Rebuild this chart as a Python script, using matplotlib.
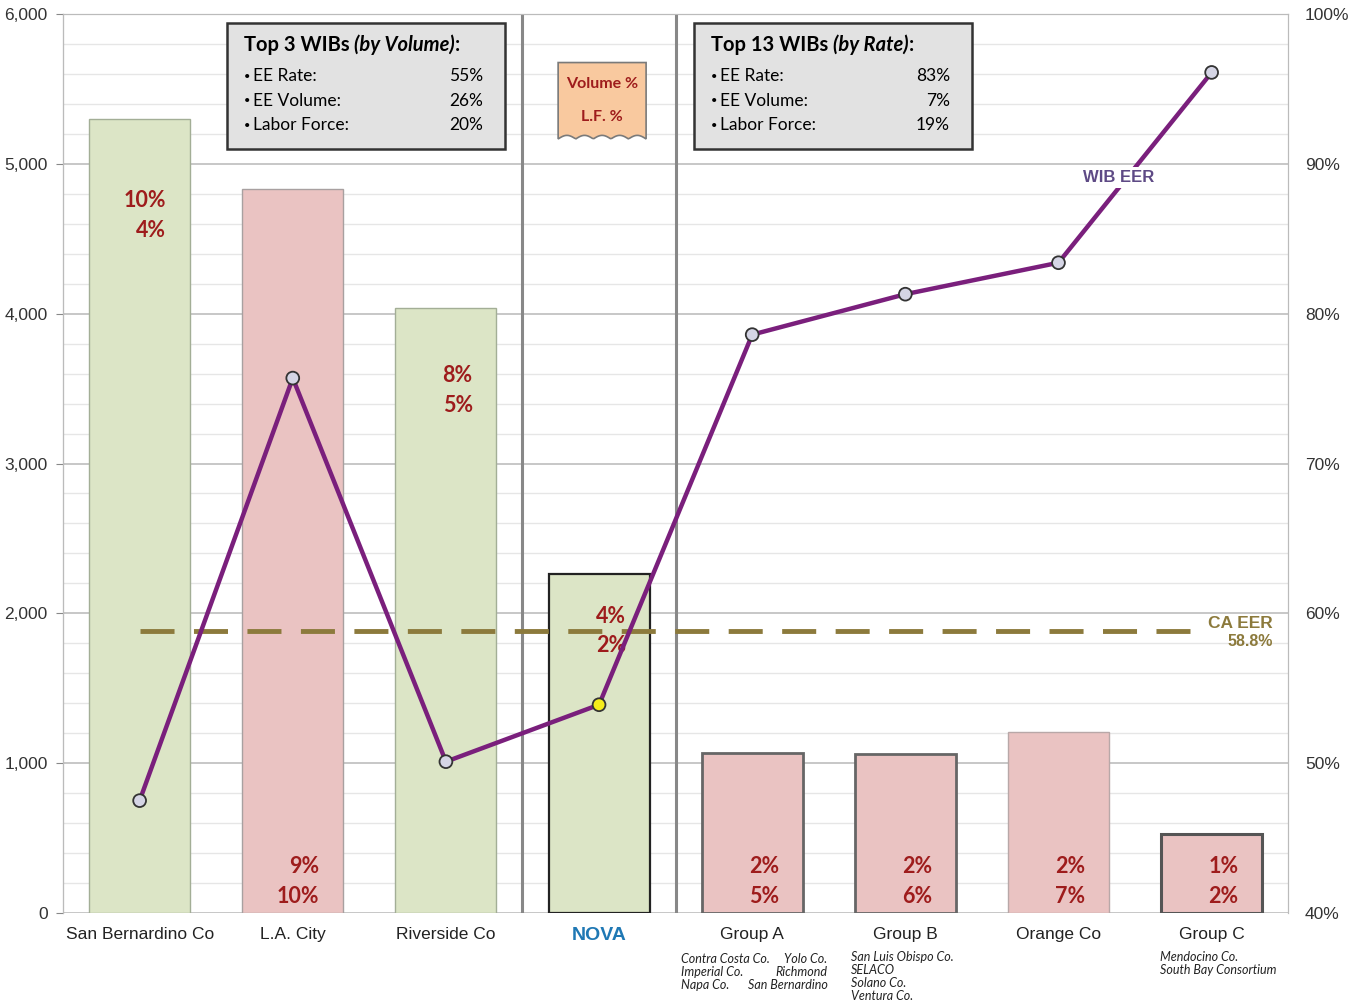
import matplotlib.pyplot as plt
import numpy as np
from matplotlib.patches import Rectangle, Polygon
from matplotlib.ticker import MultipleLocator, FuncFormatter

plt.rcParams['font.family'] = ['Liberation Sans', 'DejaVu Sans']

categories = ['San Bernardino Co', 'L.A. City', 'Riverside Co', 'NOVA',
              'Group A', 'Group B', 'Orange Co', 'Group C']
volume = [5300, 4830, 4040, 2260, 1070, 1060, 1210, 530]
wib_eer = [47.5, 75.7, 50.1, 53.9, 78.6, 81.3, 83.4, 96.1]
vol_pct = ['10%', '9%', '8%', '4%', '2%', '2%', '2%', '1%']
lf_pct = ['4%', '10%', '5%', '2%', '5%', '6%', '7%', '2%']
bar_kind = ['g', 'p', 'g', 'g', 'p', 'p', 'p', 'p']
ca_eer = 58.8
group_a_members = [('Contra Costa Co.', 'Yolo Co.'), ('Imperial Co.', 'Richmond'),
                   ('Napa Co.', 'San Bernardino')]
group_b_members = ['San Luis Obispo Co.', 'SELACO', 'Solano Co.', 'Ventura Co.']
group_c_members = ['Mendocino Co.', 'South Bay Consortium']
box1 = ('Top 3 WIBs ', '(by Volume)', [('EE Rate:', '55%'), ('EE Volume:', '26%'), ('Labor Force:', '20%')])
box2 = ('Top 13 WIBs ', '(by Rate)', [('EE Rate:', '83%'), ('EE Volume:', '7%'), ('Labor Force:', '19%')])

green = '#DCE5C6'
pink = '#EAC3C2'
red = '#9E1C1C'
purple = '#7A1F7C'
olive = '#8C7A3C'
myriad = ['Lato', 'DejaVu Sans']

fig = plt.figure(figsize=(13.56, 10), dpi=100)
ax = fig.add_axes([0.0465, 0.087, 0.9035, 0.899])
ax2 = ax.twinx()

x = np.arange(len(categories))
edges = ['#A3AE96', '#A8A0A0', '#A3AE96', '#222222', '#666666', '#666666', '#B8A8A8', '#555555']
lws = [1, 1, 1, 1.6, 2, 2, 1, 2.2]
for i in range(len(categories)):
    ax.bar(x[i], volume[i], width=0.66, color=green if bar_kind[i] == 'g' else pink,
           edgecolor=edges[i], linewidth=lws[i], zorder=2)

ax.set_xlim(-0.5, 7.5)
ax.set_ylim(0, 6000)
ax.yaxis.set_major_locator(MultipleLocator(1000))
ax.yaxis.set_minor_locator(MultipleLocator(200))
ax.yaxis.set_major_formatter(FuncFormatter(lambda v, p: f'{int(v):,}'))
ax.grid(axis='y', which='major', color='#BDBDBD', lw=1.2, zorder=0)
ax.grid(axis='y', which='minor', color='#E6E6E6', lw=1.0, zorder=0)
ax.set_axisbelow(True)
ax.tick_params(axis='y', which='major', length=5, color='#888888', labelsize=12.5, labelcolor='#333333', pad=6)
ax.tick_params(axis='y', which='minor', length=0)
ax.tick_params(axis='x', length=0, labelsize=12.5, labelcolor='#222222', pad=10)
ax.set_xticks(x)
ax.set_xticklabels(categories)
lab = ax.get_xticklabels()[3]
lab.set_color('#1F78B4')
lab.set_fontweight('bold')
lab.set_fontsize(14)
for s in ['left', 'right', 'top', 'bottom']:
    ax.spines[s].set_color('#BBBBBB')
    ax2.spines[s].set_color('#BBBBBB')
ax.spines['left'].set_color('#888888')
ax.spines['bottom'].set_visible(False)
ax2.spines['bottom'].set_visible(False)

# group separators
for xs in [2.5, 3.5]:
    ax.axvline(xs, color='#888888', lw=2.2, zorder=3)

# percentage labels (below the top of the green bars, at the bottom of the pink ones)
top_drop = {0: 547, 2: 455, 3: 280}
for i in range(len(categories)):
    if bar_kind[i] == 'g':
        y1 = volume[i] - top_drop[i]
        y2 = y1 - 195
    else:
        y1, y2 = 310, 110
    for yy, s in [(y1, vol_pct[i]), (y2, lf_pct[i])]:
        ax.text(x[i] + 0.175, yy, s, ha='right', va='center', color=red, fontsize=15.5,
                fontweight='bold', family=myriad, zorder=5)

# right axis
ax2.set_ylim(40, 100)
ax2.yaxis.set_major_locator(MultipleLocator(10))
ax2.yaxis.set_major_formatter(FuncFormatter(lambda v, p: f'{int(v)}%'))
ax2.tick_params(axis='y', length=0, labelsize=12.5, labelcolor='#333333', pad=12)

ax2.plot([0, 6.95], [ca_eer, ca_eer], color=olive, lw=3.5, dashes=(7, 4), zorder=3)
ax2.text(7.19, 59.35, 'CA EER', color=olive, fontsize=12.5, fontweight='bold', ha='center', va='center')
ax2.text(7.25, 58.15, f'{ca_eer}%', color=olive, fontsize=11.5, fontweight='bold', ha='center', va='center')

ax2.plot(x, wib_eer, color=purple, lw=3.2, zorder=4)
mcolors = ['#D5D5E5'] * len(x)
mcolors[3] = '#F5EC1A'
ax2.scatter(x, wib_eer, s=85, c=mcolors, edgecolors='#333333', linewidths=1.3, zorder=6)
ax2.text(6.39, 89.1, 'WIB EER', color='#5E4A85', fontsize=12, fontweight='bold', ha='center', va='center',
         zorder=7, bbox=dict(facecolor='white', edgecolor='none', pad=2))

# info boxes (axes coordinates)
def info_box(x0, x1, title, italic, rows):
    y0, y1 = 0.85, 0.99
    ax.add_patch(Rectangle((x0, y0), x1 - x0, y1 - y0, transform=ax.transAxes,
                           facecolor='#E2E2E2', edgecolor='#333333', lw=1.8, zorder=7))
    t = ax.text(x0 + 0.0135, 0.966, title, transform=ax.transAxes, fontsize=14.5, fontweight='bold',
                va='center', family=myriad, zorder=8)
    t2 = ax.annotate(italic, xy=(1, 0), xycoords=t, va='bottom', fontsize=14.5, fontweight='bold',
                     style='italic', family=myriad, zorder=8)
    ax.annotate(':', xy=(1, 0), xycoords=t2, va='bottom', fontsize=14.5, fontweight='bold',
                family=myriad, zorder=8)
    for k, (name, val) in enumerate(rows):
        yy = 0.931 - k * 0.0275
        ax.text(x0 + 0.0135, yy, '\u2022', transform=ax.transAxes, fontsize=8,
                va='center', family=myriad, zorder=8)
        ax.text(x0 + 0.021, yy, name, transform=ax.transAxes, fontsize=12.5,
                va='center', family=myriad, zorder=8)
        ax.text(x1 - 0.018, yy, val, transform=ax.transAxes, fontsize=12.5, ha='right',
                va='center', family=myriad, zorder=8)

info_box(0.1338, 0.3608, *box1)
info_box(0.5151, 0.7420, *box2)

# "Volume % / L.F. %" key box with wavy bottom
kx0, kx1, ky0, ky1 = 0.4041, 0.4759, 0.861, 0.946
wx = np.linspace(kx0, kx1, 60)
wy = ky0 + 0.004 * np.abs(np.sin((wx - kx0) / (kx1 - kx0) * np.pi * 5))
poly = np.vstack([[kx0, ky1], [kx1, ky1], np.column_stack([wx[::-1], wy[::-1]])])
ax.add_patch(Polygon(poly, closed=True, transform=ax.transAxes, facecolor='#F9C99F',
                     edgecolor='#7A7A7A', lw=1.2, zorder=7))
ax.text((kx0 + kx1) / 2, 0.922, 'Volume %', transform=ax.transAxes, color=red, fontsize=11.5,
        fontweight='bold', ha='center', va='center', family=myriad, zorder=8)
ax.text((kx0 + kx1) / 2, 0.885, 'L.F. %', transform=ax.transAxes, color=red, fontsize=11.5,
        fontweight='bold', ha='center', va='center', family=myriad, zorder=8)

# member lists under group labels
fs = 9
step = 0.0143
for k, (left, right) in enumerate(group_a_members):
    yy = -0.0512 - k * step
    ax.text(0.504, yy, left, transform=ax.transAxes, fontsize=fs, style='italic',
            va='center', ha='left', family=myriad, color='#222222')
    ax.text(0.624, yy, right, transform=ax.transAxes, fontsize=fs, style='italic',
            va='center', ha='right', family=myriad, color='#222222')
for k, s in enumerate(group_b_members):
    ax.text(0.643, -0.049 - k * step, s, transform=ax.transAxes, fontsize=fs, style='italic',
            va='center', ha='left', family=myriad, color='#222222')
for k, s in enumerate(group_c_members):
    ax.text(0.895, -0.049 - k * step, s, transform=ax.transAxes, fontsize=fs, style='italic',
            va='center', ha='left', family=myriad, color='#222222')

fig.savefig('out.png', dpi=100)
